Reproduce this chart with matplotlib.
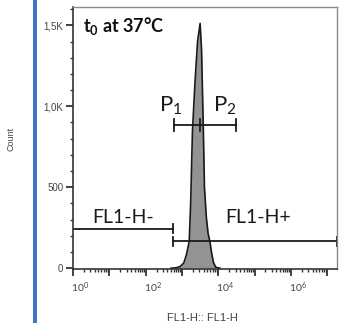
import matplotlib
matplotlib.use("Agg")
import matplotlib.pyplot as plt
import matplotlib.transforms as mtransforms
from matplotlib.lines import Line2D
from matplotlib.ticker import FixedLocator, LogLocator, MultipleLocator, FuncFormatter
import numpy as np

plt.rcParams["font.family"] = ["Lato", "DejaVu Sans"]
plt.rcParams["mathtext.fontset"] = "custom"
plt.rcParams["mathtext.rm"] = "Lato"
plt.rcParams["mathtext.it"] = "Lato:italic"
plt.rcParams["mathtext.bf"] = "Lato:bold"

# histogram outline (log10 of FL1-H, count)
hist_log_x = [2.70, 2.85, 2.95, 3.05, 3.12, 3.20, 3.24, 3.29, 3.36, 3.43, 3.50,
              3.54, 3.57, 3.59, 3.62, 3.67, 3.72, 3.77, 3.82, 3.87, 3.93, 4.05]
hist_counts = [0, 3, 10, 32, 80, 165, 400, 850, 1150, 1400, 1512,
               1350, 1050, 850, 500, 320, 215, 165, 90, 35, 6, 0]

# gates: (start, end) on FL1-H, y level in counts
gate_neg = (1.0, 562.0)
gate_neg_y = 245
gate_pos = (562.0, 10 ** 7.27)
gate_pos_y = 165
gate_p = (600.0, 3160.0, 31000.0)
gate_p_y = 885

x_major = [10.0 ** k for k in range(0, 8)]
x_labelled = [0, 2, 4, 6]
y_major = [0, 500, 1000, 1500]
y_labels = ["0", "500", "1,0K", "1,5K"]

fig = plt.figure(figsize=(3.4, 3.23), dpi=100)
ax = fig.add_axes([73 / 340, 1 - 269 / 323, 264 / 340, 262.3 / 323])

xs = 10.0 ** np.array(hist_log_x)
ax.fill_between(xs, 0, hist_counts, color="#939393", linewidth=0)
ax.plot(xs, hist_counts, color="#1a1a1a", linewidth=1.2)

ax.set_xscale("log")
ax.set_xlim(1.0, 10 ** 7.27)
ax.set_ylim(-5, 1615)

# gates
lc = "#1a1a1a"
ax.plot(gate_neg, [gate_neg_y] * 2, color=lc, lw=1.3)
ax.plot([gate_neg[1]] * 2, [gate_neg_y - 25, gate_neg_y + 25], color=lc, lw=1.3)
ax.plot(gate_pos, [gate_pos_y] * 2, color=lc, lw=1.3, clip_on=False)
for gx in gate_pos:
    ax.plot([gx] * 2, [gate_pos_y - 25, gate_pos_y + 25], color=lc, lw=1.3, clip_on=False)
ax.plot([gate_p[0], gate_p[2]], [gate_p_y] * 2, color=lc, lw=1.3)
for gx in gate_p:
    ax.plot([gx] * 2, [gate_p_y - 35, gate_p_y + 35], color=lc, lw=1.3)

ax.text(10 ** 1.37, 280, "FL1-H-", fontsize=14, ha="center", va="baseline", color="#1a1a1a")
ax.text(10 ** 5.10, 280, "FL1-H+", fontsize=14, ha="center", va="baseline", color="#1a1a1a")
ax.text(10 ** 2.70, 967, "P$_1$", fontsize=16, ha="center", va="baseline", color="#1a1a1a")
ax.text(10 ** 4.18, 967, "P$_2$", fontsize=16, ha="center", va="baseline", color="#1a1a1a")
ax.text(0.036, 0.902, r"$\mathbf{t_0}$ at 37°C", transform=ax.transAxes, fontsize=13,
        fontweight="bold", ha="left", va="baseline", color="#111111")

# axes styling
for side in ["left", "bottom"]:
    ax.spines[side].set_color("#333333")
    ax.spines[side].set_linewidth(1.2)
for side in ["top", "right"]:
    ax.spines[side].set_color("#8a8a8a")
    ax.spines[side].set_linewidth(1.0)

ax.xaxis.set_major_locator(FixedLocator(x_major))
ax.xaxis.set_minor_locator(LogLocator(base=10, subs=np.arange(2, 10), numticks=20))
ax.xaxis.set_major_formatter(FuncFormatter(
    lambda v, p: r"$10^{%d}$" % round(np.log10(v)) if round(np.log10(v)) in x_labelled else ""))
ax.set_yticks(y_major)
ax.set_yticklabels(y_labels)
ax.yaxis.set_minor_locator(MultipleLocator(100))

ax.tick_params(axis="both", which="major", direction="out", length=5, width=1.3,
               color="#333333", labelsize=7, labelcolor="#444444", pad=2)
ax.tick_params(axis="both", which="minor", direction="out", length=2.5, width=1.0,
               color="#333333")
ax.tick_params(axis="x", which="major", pad=3, labelsize=7.5)
for lab in ax.yaxis.get_ticklabels():
    lab.set_fontfamily(["Liberation Sans", "DejaVu Sans"])

offset = mtransforms.ScaledTranslation(7 / 100, 0, fig.dpi_scale_trans)
for lab in ax.xaxis.get_majorticklabels():
    lab.set_transform(lab.get_transform() + offset)
    lab.set_fontfamily(["Liberation Sans", "DejaVu Sans"])

fig.text(11 / 340, 1 - 139 / 323, "Count", rotation=90, fontsize=6.5, ha="center", va="center",
         color="#444444", family=["Liberation Sans", "DejaVu Sans"])
fig.text(202 / 340, 1 - 313 / 323, "FL1-H:: FL1-H", fontsize=8, ha="center", va="top",
         color="#444444", family=["Liberation Sans", "DejaVu Sans"])

# blue side bar
fig.add_artist(Line2D([35.3 / 340] * 2, [0, 1], transform=fig.transFigure,
                      color="#4472c4", linewidth=2.9))

fig.savefig("out.png", dpi=100)
